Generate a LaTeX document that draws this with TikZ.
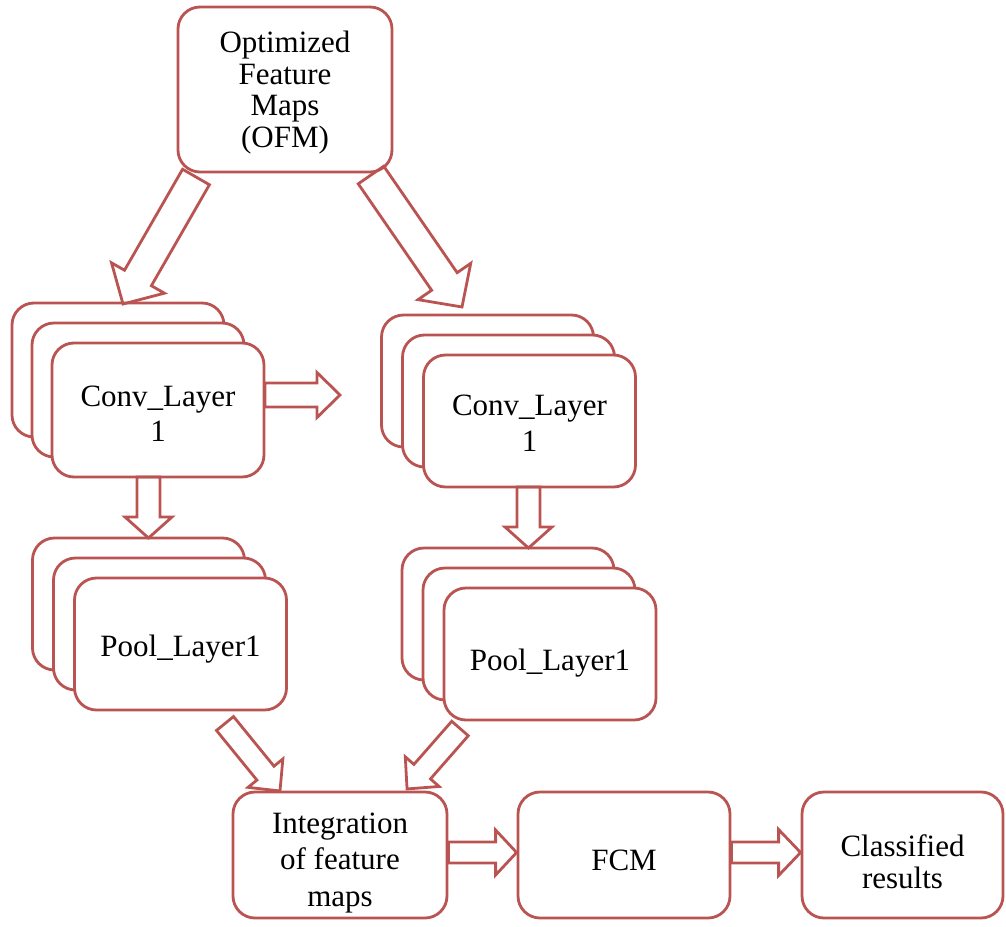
\documentclass[tikz,border=0pt]{standalone}
\usepackage{fontspec}
\setmainfont{Liberation Serif}
\usetikzlibrary{calc}
\definecolor{mainred}{RGB}{186,84,82}
\tikzset{
  box/.style={draw=mainred, line width=2.8pt, fill=white, rounded corners=22pt,
    inner sep=0pt},
  lbl/.style={align=center, text=black, inner sep=0pt, font={\fontsize{31}{#1}\selectfont}},
  blockarrow/.style={draw=mainred, line width=2.8pt, line join=miter}
}
\newcommand\barrow[5]{%
  \pgfmathanglebetweenpoints{\pgfpointanchor{#1}{center}}{\pgfpointanchor{#2}{center}}%
  \let\baang\pgfmathresult
  \pgfpointdiff{\pgfpointanchor{#1}{center}}{\pgfpointanchor{#2}{center}}%
  \pgfgetlastxy{\bdx}{\bdy}%
  \pgfmathsetmacro\balen{veclen(\bdx,\bdy)}%
  \pgfmathsetmacro\babase{\balen-#5}%
  \pgfmathsetmacro\bas{#3/2}%
  \pgfmathsetmacro\bah{#4/2}%
  \draw[blockarrow,shift={(#1)},rotate=\baang]
    (0pt,-\bas pt) -- (\babase pt,-\bas pt) -- (\babase pt,-\bah pt) --
    (\balen pt,0pt) -- (\babase pt,\bah pt) -- (\babase pt,\bas pt) --
    (0pt,\bas pt) -- cycle;
}
\begin{document}
\begin{tikzpicture}[x=1pt,y=-1pt]
\useasboundingbox (0,0) rectangle (1006,926);
% OFM
\node[box, minimum width=214pt, minimum height=165pt] (ofm) at (285,89.5) {};
\node[lbl=31.5] (ofmt) at ([yshift=-3pt]ofm.center) {Optimized\\Feature\\Maps\\(OFM)};
% left conv stack
\node[box, minimum width=212pt, minimum height=134pt] (conv1c) at (118,370) {};
\node[box, minimum width=212pt, minimum height=134pt] (conv1b) at (138,390) {};
\node[box, minimum width=212pt, minimum height=134pt] (conv1) at (158,410) {};
\node[lbl=35] (conv1t) at ([yshift=-4pt]conv1.center) {Conv\_Layer\\1};
% right conv stack
\node[box, minimum width=212pt, minimum height=132pt] (conv2c) at (487.5,381) {};
\node[box, minimum width=212pt, minimum height=132pt] (conv2b) at (508.5,401) {};
\node[box, minimum width=212pt, minimum height=132pt] (conv2) at (529.5,421) {};
\node[lbl=36.5] (conv2t) at ([yshift=-2pt]conv2.center) {Conv\_Layer\\1};
% left pool stack
\node[box, minimum width=212pt, minimum height=132pt] (pool1c) at (138.5,604) {};
\node[box, minimum width=212pt, minimum height=132pt] (pool1b) at (159.5,624) {};
\node[box, minimum width=212pt, minimum height=132pt] (pool1) at (180.5,644) {};
\node[lbl=35] (pool1t) at ([yshift=-5pt]pool1.center) {Pool\_Layer1};
% right pool stack
\node[box, minimum width=212pt, minimum height=132pt] (pool2c) at (508,614) {};
\node[box, minimum width=212pt, minimum height=132pt] (pool2b) at (529,634) {};
\node[box, minimum width=212pt, minimum height=132pt] (pool2) at (550,654) {};
\node[lbl=35] (pool2t) at ([yshift=-9pt]pool2.center) {Pool\_Layer1};
% bottom row
\node[box, minimum width=214pt, minimum height=126pt] (integ) at (340,855) {};
\node[lbl=36.5] (integt) at ([yshift=-8pt]integ.center) {Integration\\of feature\\maps};
\node[box, minimum width=212pt, minimum height=126pt] (fcm) at (624,855) {};
\node[lbl=35] (fcmt) at ([yshift=-5pt]fcm.center) {FCM};
\node[box, minimum width=201pt, minimum height=126pt] (cls) at (902.5,855) {};
\node[lbl=32] (clst) at ([yshift=-7pt]cls.center) {Classified\\results};
% arrow end points
\coordinate (a1s) at (196,177);   \coordinate (a1e) at (123,304);
\coordinate (a2s) at (371,175);   \coordinate (a2e) at (462,307);
\coordinate (a3s) at (265,395);   \coordinate (a3e) at (340,395);
\coordinate (a4s) at (148.5,477); \coordinate (a4e) at (148.5,538);
\coordinate (a5s) at (528.5,487); \coordinate (a5e) at (528.5,548);
\coordinate (a6s) at (225,723.5); \coordinate (a6e) at (280,791);
\coordinate (a7s) at (460,728.5); \coordinate (a7e) at (407,789);
\coordinate (a8s) at (integ.east |- 0,852.5); \coordinate (a8e) at (fcm.west |- 0,852.5);
\coordinate (a9s) at (fcm.east |- 0,852.5);   \coordinate (a9e) at (cls.west |- 0,852.5);
\barrow{a1s}{a1e}{31}{61}{30}
\barrow{a2s}{a2e}{31}{64}{31}
\barrow{a3s}{a3e}{24}{45}{23}
\barrow{a4s}{a4e}{23}{47}{21}
\barrow{a5s}{a5e}{23}{47}{21}
\barrow{a6s}{a6e}{22}{45}{23}
\barrow{a7s}{a7e}{22}{45}{23}
\barrow{a8s}{a8e}{21}{45}{21}
\barrow{a9s}{a9e}{21}{46}{22}
\end{tikzpicture}
\end{document}
